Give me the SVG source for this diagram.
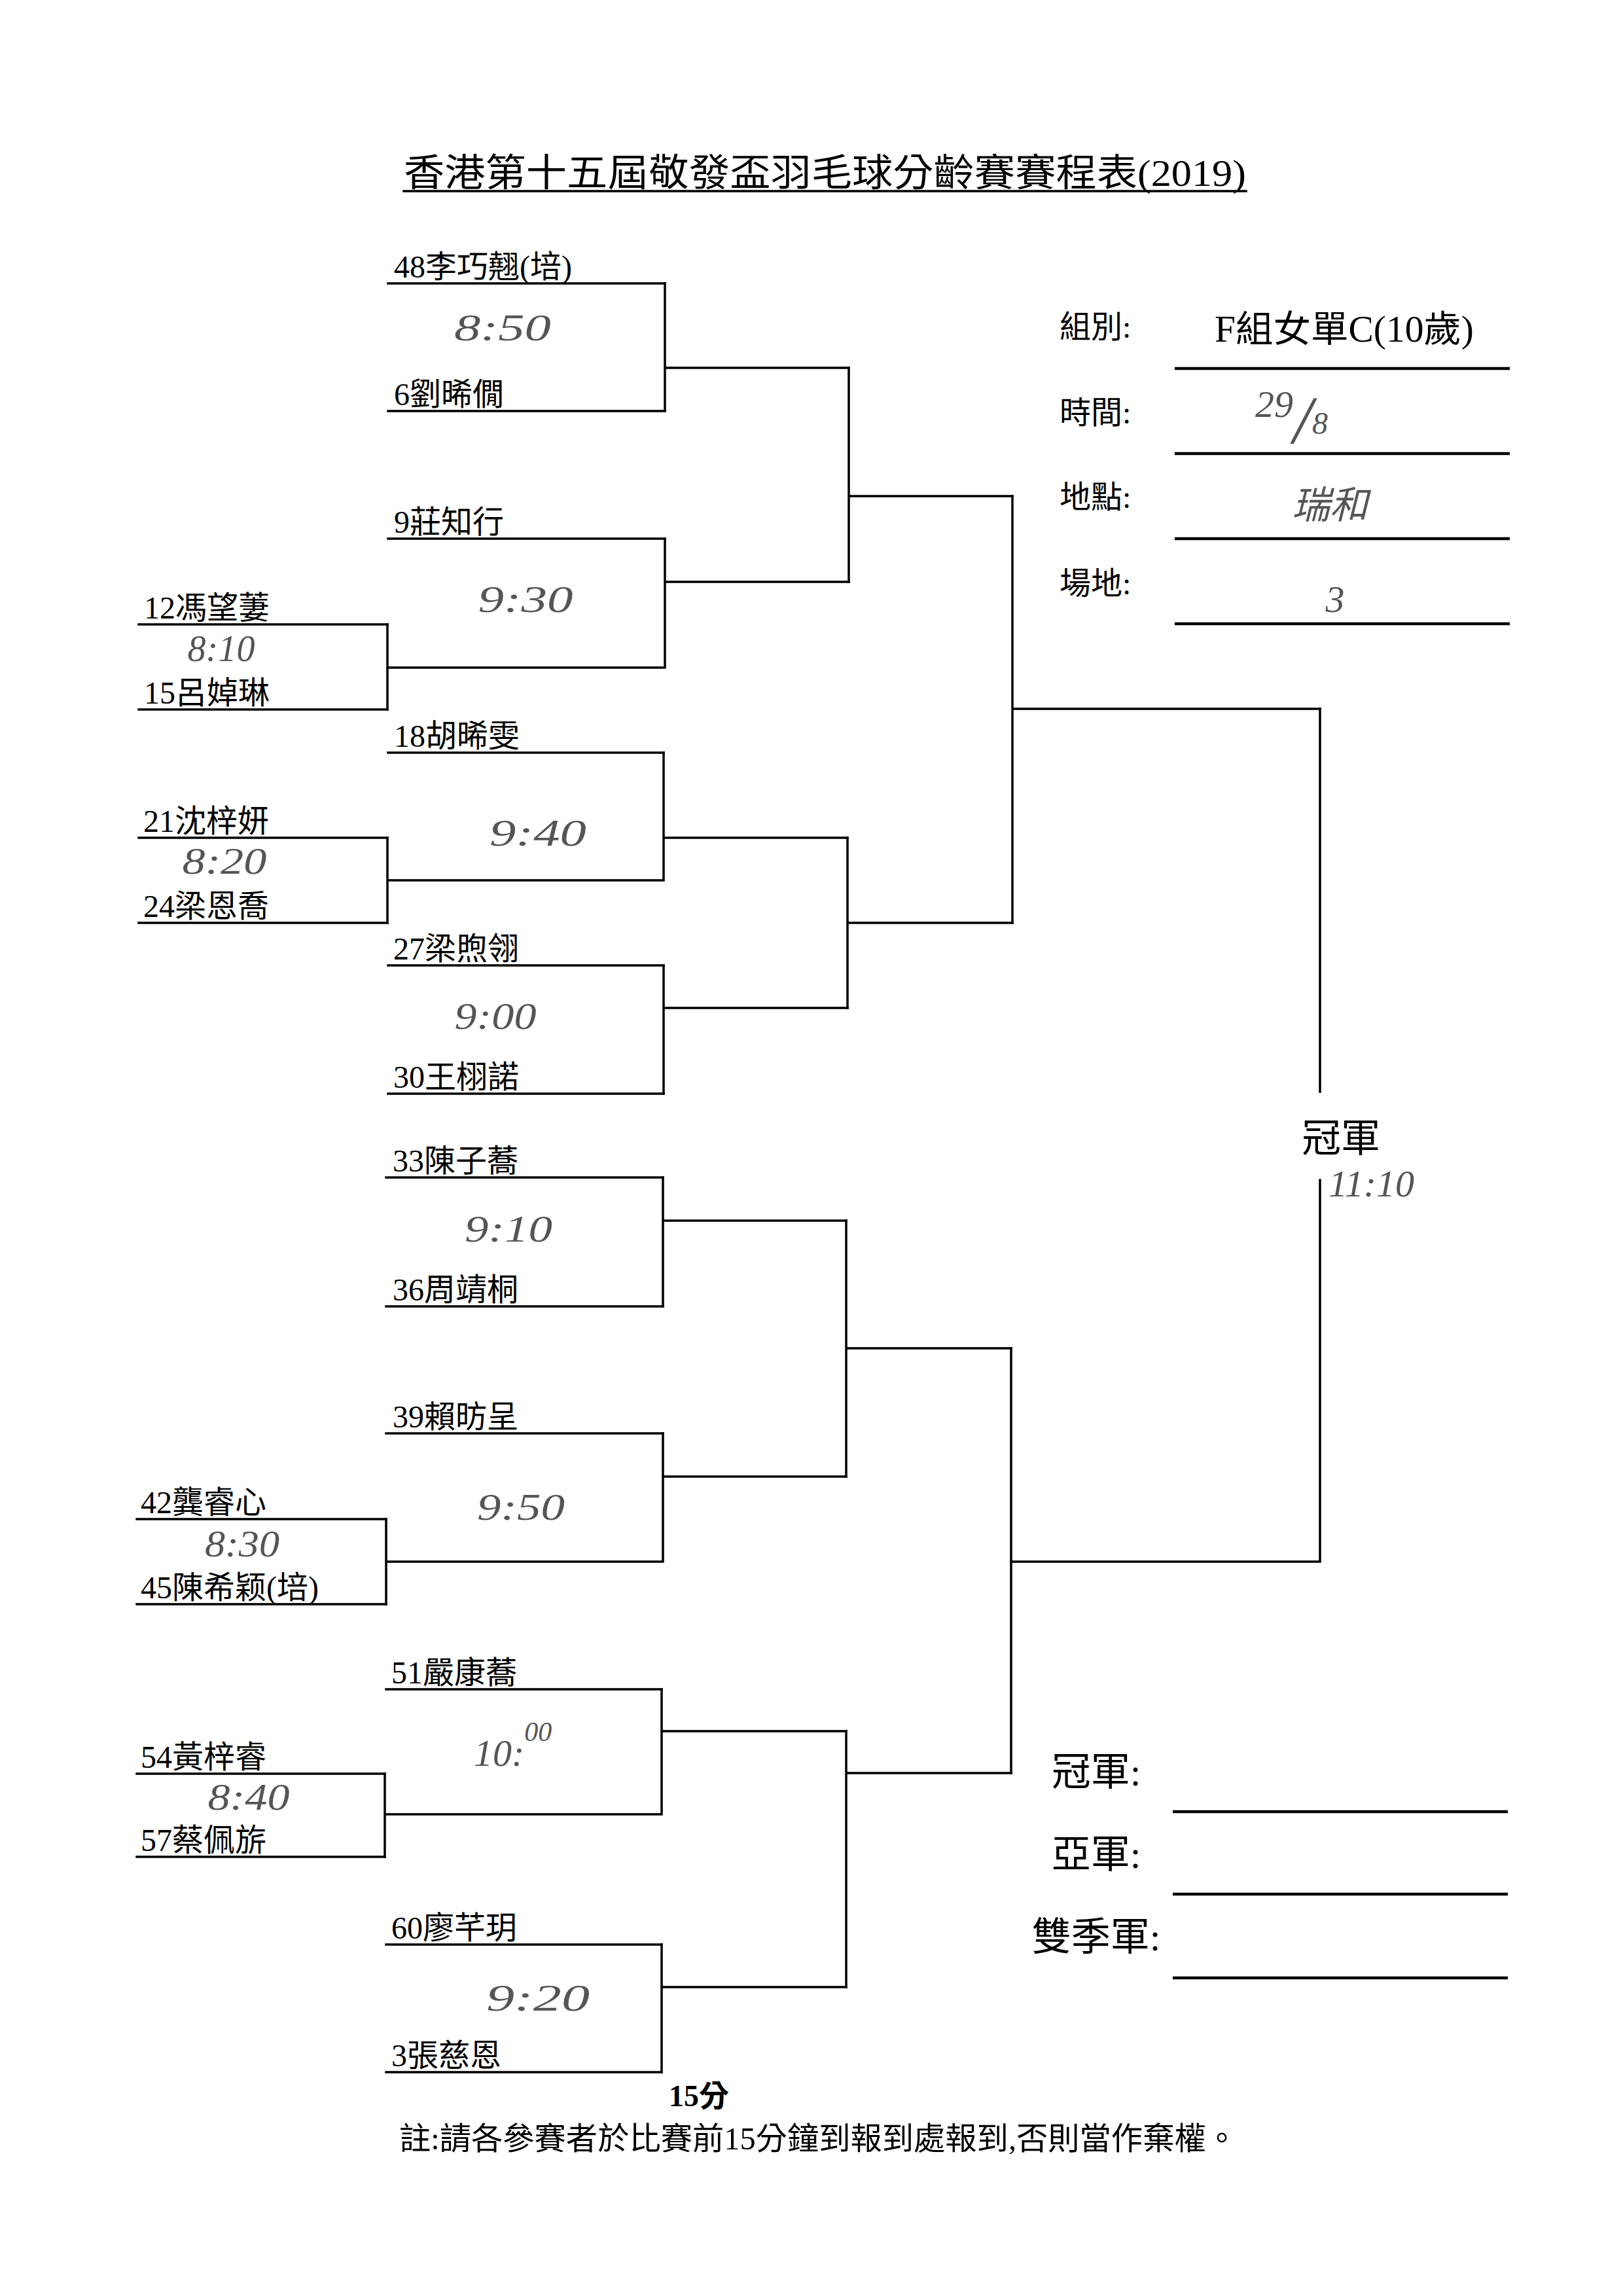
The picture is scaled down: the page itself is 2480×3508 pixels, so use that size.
<svg xmlns="http://www.w3.org/2000/svg" width="2480" height="3508" viewBox="0 0 2480 3508">
<style>
.t{font-family:"Liberation Serif","Noto Sans CJK TC",serif;fill:#000}
.name{font-size:48px}
.hdr{font-size:48px}
.hand{font-family:"Liberation Serif","Noto Sans CJK TC",serif;font-style:italic;fill:#555;font-size:58px}
.ln{stroke:#000;stroke-width:3.5;fill:none;stroke-linecap:square}
.fld{stroke:#000;stroke-width:4.5;fill:none}
</style>
<rect x="0" y="0" width="2480" height="3508" fill="#fff"/>

<g id="title">
<text class="t" x="617" y="284" font-size="58" textLength="1287" lengthAdjust="spacingAndGlyphs">香港第十五屆敬發盃羽毛球分齡賽賽程表(2019)</text>
<line class="ln" x1="617" y1="292" x2="1904" y2="292" stroke-width="3"/>
</g>

<!-- players -->
<g id="p48"><text class="t name" x="602" y="424">48李巧翹(培)</text><line class="ln" x1="593" y1="433" x2="1016" y2="433"/></g>
<g id="p6"><text class="t name" x="602" y="619">6劉晞僩</text><line class="ln" x1="593" y1="628" x2="1016" y2="628"/></g>
<g id="p9"><text class="t name" x="602" y="814">9莊知行</text><line class="ln" x1="593" y1="823" x2="1016" y2="823"/></g>
<g id="p12"><text class="t name" x="220" y="945">12馮望萋</text><line class="ln" x1="212" y1="954" x2="592" y2="954"/></g>
<g id="p15"><text class="t name" x="220" y="1075">15呂婥琳</text><line class="ln" x1="212" y1="1084" x2="592" y2="1084"/></g>
<g id="p18"><text class="t name" x="602" y="1141">18胡晞雯</text><line class="ln" x1="593" y1="1150" x2="1014" y2="1150"/></g>
<g id="p21"><text class="t name" x="219" y="1271">21沈梓妍</text><line class="ln" x1="212" y1="1280" x2="592" y2="1280"/></g>
<g id="p24"><text class="t name" x="219" y="1401">24梁恩喬</text><line class="ln" x1="212" y1="1410" x2="592" y2="1410"/></g>
<g id="p27"><text class="t name" x="601" y="1466">27梁煦翎</text><line class="ln" x1="593" y1="1475" x2="1014" y2="1475"/></g>
<g id="p30"><text class="t name" x="601" y="1662">30王栩諾</text><line class="ln" x1="593" y1="1671" x2="1014" y2="1671"/></g>
<g id="p33"><text class="t name" x="600" y="1790">33陳子蕎</text><line class="ln" x1="590" y1="1799" x2="1013" y2="1799"/></g>
<g id="p36"><text class="t name" x="600" y="1987">36周靖桐</text><line class="ln" x1="590" y1="1996" x2="1013" y2="1996"/></g>
<g id="p39"><text class="t name" x="600" y="2181">39賴昉呈</text><line class="ln" x1="590" y1="2190" x2="1013" y2="2190"/></g>
<g id="p42"><text class="t name" x="215" y="2312">42龔睿心</text><line class="ln" x1="209" y1="2321" x2="590" y2="2321"/></g>
<g id="p45"><text class="t name" x="215" y="2442">45陳希颖(培)</text><line class="ln" x1="209" y1="2451" x2="590" y2="2451"/></g>
<g id="p51"><text class="t name" x="598" y="2572">51嚴康蕎</text><line class="ln" x1="590" y1="2581" x2="1011" y2="2581"/></g>
<g id="p54"><text class="t name" x="215" y="2701">54黃梓睿</text><line class="ln" x1="209" y1="2710" x2="588" y2="2710"/></g>
<g id="p57"><text class="t name" x="215" y="2828">57蔡佩旂</text><line class="ln" x1="209" y1="2837" x2="588" y2="2837"/></g>
<g id="p60"><text class="t name" x="598" y="2962">60廖芊玥</text><line class="ln" x1="590" y1="2971" x2="1011" y2="2971"/></g>
<g id="p3"><text class="t name" x="598" y="3157">3張慈恩</text><line class="ln" x1="590" y1="3166" x2="1011" y2="3166"/></g>

<!-- connectors -->
<g id="connectors" class="ln">
<path d="M1016,433 V628 M1016,562 H1297"/>
<path d="M592,954 V1084 M592,1020 H1016 M1016,823 V1020 M1016,889 H1297"/>
<path d="M1297,562 V889 M1297,758 H1547"/>
<path d="M592,1280 V1410 M592,1345 H1014 M1014,1150 V1345 M1014,1280 H1295"/>
<path d="M1014,1475 V1671 M1014,1540 H1295"/>
<path d="M1295,1280 V1540 M1295,1410 H1547"/>
<path d="M1547,758 V1410 M1547,1083 H2017"/>
<path d="M2017,1083 V1668 M2017,1803 V2386 M1545,2386 H2017"/>
<path d="M1013,1799 V1996 M1013,1865 H1293"/>
<path d="M590,2321 V2451 M590,2386 H1013 M1013,2190 V2386 M1013,2256 H1293"/>
<path d="M1293,1865 V2256 M1293,2060 H1545"/>
<path d="M588,2710 V2837 M588,2772 H1011 M1011,2581 V2772 M1011,2645 H1293"/>
<path d="M1011,2971 V3166 M1011,3036 H1293"/>
<path d="M1293,2645 V3036 M1293,2709 H1545"/>
<path d="M1545,2060 V2709"/>
</g>

<!-- handwritten match times -->
<g id="times">
<text class="hand" x="768" y="520" text-anchor="middle" textLength="148" lengthAdjust="spacingAndGlyphs">8:50</text>
<text class="hand" x="803" y="935" text-anchor="middle" textLength="145" lengthAdjust="spacingAndGlyphs">9:30</text>
<text class="hand" x="338" y="1010" text-anchor="middle" font-size="50" textLength="103" lengthAdjust="spacingAndGlyphs">8:10</text>
<text class="hand" x="822" y="1292" text-anchor="middle" textLength="148" lengthAdjust="spacingAndGlyphs">9:40</text>
<text class="hand" x="343" y="1335" text-anchor="middle" font-size="50" textLength="129" lengthAdjust="spacingAndGlyphs">8:20</text>
<text class="hand" x="757" y="1572" text-anchor="middle" textLength="125" lengthAdjust="spacingAndGlyphs">9:00</text>
<text class="hand" x="777" y="1897" text-anchor="middle" textLength="134" lengthAdjust="spacingAndGlyphs">9:10</text>
<text class="hand" x="796" y="2322" text-anchor="middle" font-size="64" textLength="134" lengthAdjust="spacingAndGlyphs">9:50</text>
<text class="hand" x="370" y="2378" text-anchor="middle" font-size="50" textLength="114" lengthAdjust="spacingAndGlyphs">8:30</text>
<text class="hand" x="724" y="2698" font-size="58">10:<tspan font-size="42" dy="-38">00</tspan></text>
<text class="hand" x="380" y="2765" text-anchor="middle" font-size="50" textLength="125" lengthAdjust="spacingAndGlyphs">8:40</text>
<text class="hand" x="822" y="3072" text-anchor="middle" textLength="158" lengthAdjust="spacingAndGlyphs">9:20</text>
</g>

<!-- info block -->
<g id="info">
<text class="t hdr" x="1619" y="516">組別:</text>
<text class="t hdr" x="1619" y="647">時間:</text>
<text class="t hdr" x="1619" y="776">地點:</text>
<text class="t hdr" x="1619" y="908">場地:</text>
<text class="t" x="1856" y="522" font-size="56" textLength="396" lengthAdjust="spacingAndGlyphs">F組女單C(10歲)</text>
<line class="fld" x1="1795" y1="563" x2="2307" y2="563"/>
<line class="fld" x1="1795" y1="693" x2="2307" y2="693"/>
<line class="fld" x1="1795" y1="823" x2="2307" y2="823"/>
<line class="fld" x1="1795" y1="953" x2="2307" y2="953"/>
<text class="hand" x="1918" y="637" font-size="40">29<tspan font-size="104" dy="40">/</tspan><tspan font-size="48" dy="-14">8</tspan></text>
<text class="hand" x="2032" y="792" text-anchor="middle" font-size="66">瑞和</text>
<text class="hand" x="2040" y="935" text-anchor="middle" font-size="80">3</text>
</g>

<!-- champion node -->
<g id="champion">
<text class="t" x="1989" y="1760" font-size="60">冠軍</text>
<text class="hand" x="2030" y="1828" font-size="36">11:10</text>
</g>

<!-- results block -->
<g id="results">
<text class="t" x="1675" y="2728" font-size="60" text-anchor="middle">冠軍:</text>
<text class="t" x="1675" y="2854" font-size="60" text-anchor="middle">亞軍:</text>
<text class="t" x="1675" y="2980" font-size="60" text-anchor="middle">雙季軍:</text>
<line class="fld" x1="1792" y1="2768" x2="2304" y2="2768"/>
<line class="fld" x1="1792" y1="2894" x2="2304" y2="2894"/>
<line class="fld" x1="1792" y1="3022" x2="2304" y2="3022"/>
</g>

<!-- footer -->
<g id="footer">
<text class="t" x="1022" y="3218" font-size="46" font-weight="bold">15分</text>
<text class="t" x="610" y="3284" font-size="48" textLength="1281" lengthAdjust="spacingAndGlyphs">註:請各參賽者於比賽前15分鐘到報到處報到,否則當作棄權。</text>
</g>
</svg>
